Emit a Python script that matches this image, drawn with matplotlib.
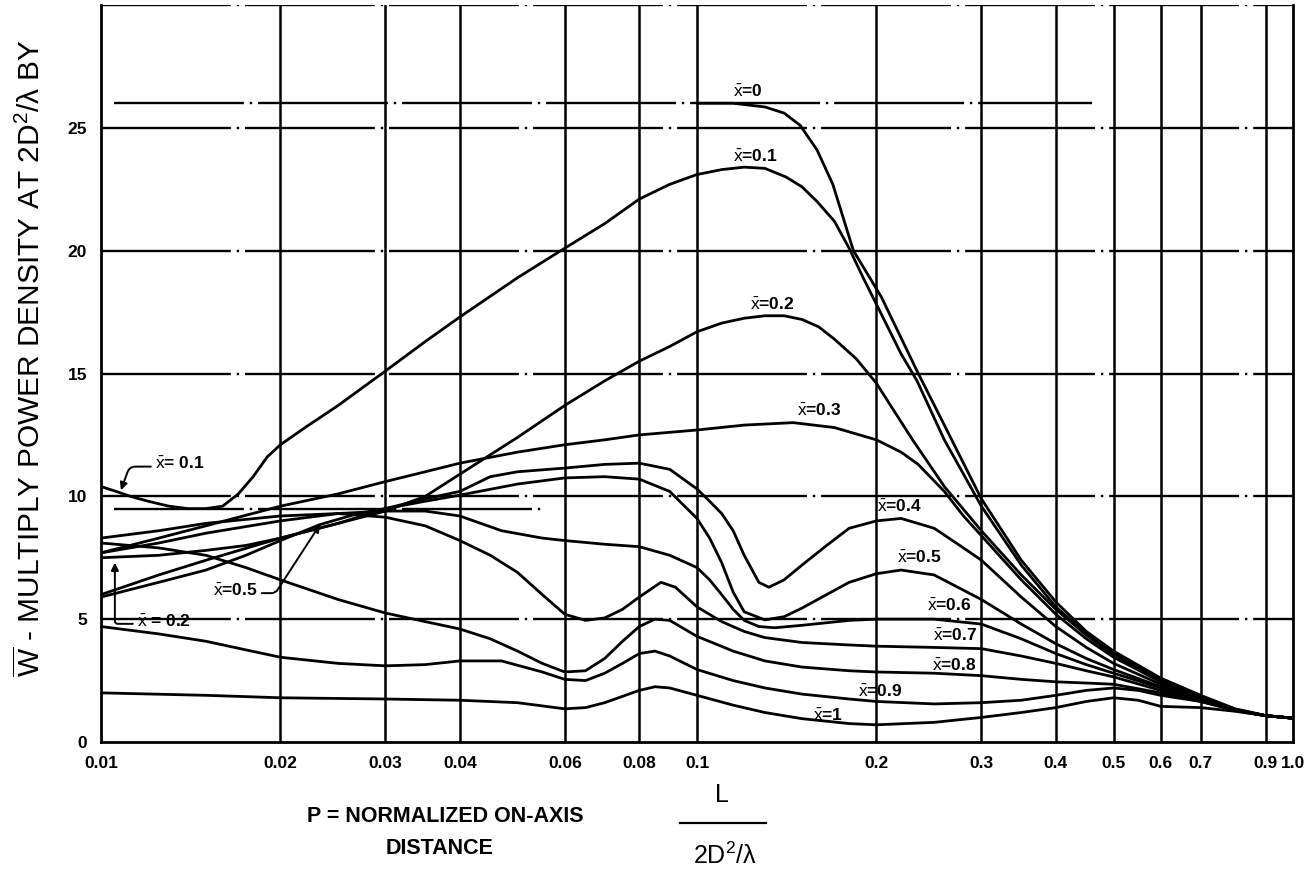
import matplotlib
matplotlib.use('Agg')
import matplotlib.pyplot as plt
from matplotlib.ticker import NullLocator

plt.rcParams['font.family'] = ['Liberation Sans', 'DejaVu Sans']
plt.rcParams['mathtext.fontset'] = 'custom'
plt.rcParams['mathtext.rm'] = 'Liberation Sans'
plt.rcParams['mathtext.it'] = 'Liberation Sans:italic'
plt.rcParams['mathtext.bf'] = 'Liberation Sans:bold'

# W (power density multiplier) against P = L / (2D^2/lambda), one curve per taper x-bar
p_x00 = [0.1, 0.115, 0.13, 0.14, 0.149, 0.159, 0.169, 0.183, 0.204, 0.234, 0.26, 0.3, 0.35, 0.4,
         0.45, 0.5, 0.6, 0.7, 0.8, 0.9, 1.0]
w_x00 = [26.0, 26.0, 25.85, 25.6, 25.1, 24.1, 22.7, 20.0, 18.1, 15.1, 12.9, 9.9, 7.4, 5.7,
         4.5, 3.7, 2.6, 1.9, 1.35, 1.08, 0.97]

p_x01 = [0.01, 0.0106, 0.0112, 0.012, 0.013, 0.014, 0.015, 0.016, 0.017, 0.018, 0.019, 0.02, 0.022,
         0.025, 0.03, 0.035, 0.04, 0.05, 0.06, 0.07, 0.08, 0.09, 0.1, 0.11, 0.12, 0.13, 0.141, 0.15,
         0.159, 0.17, 0.18, 0.19, 0.204, 0.22, 0.234, 0.26, 0.3, 0.35, 0.4, 0.45, 0.5, 0.6, 0.7, 0.8,
         0.9, 1.0]
w_x01 = [10.4, 10.2, 10.0, 9.8, 9.6, 9.5, 9.5, 9.6, 10.1, 10.8, 11.6, 12.1, 12.8,
         13.7, 15.1, 16.3, 17.3, 18.9, 20.1, 21.1, 22.1, 22.7, 23.1, 23.3, 23.4, 23.35, 23.0, 22.6,
         22.0, 21.2, 20.1, 18.9, 17.4, 15.8, 14.7, 12.3, 9.6, 7.2, 5.5, 4.4, 3.6, 2.55, 1.86, 1.33,
         1.07, 0.97]

p_x02 = [0.01, 0.0125, 0.015, 0.0175, 0.02, 0.025, 0.03, 0.035, 0.04, 0.05, 0.06, 0.07, 0.08, 0.09,
         0.1, 0.11, 0.12, 0.13, 0.14, 0.15, 0.16, 0.17, 0.185, 0.2, 0.23, 0.26, 0.3, 0.35, 0.4, 0.45,
         0.5, 0.6, 0.7, 0.8, 0.9, 1.0]
w_x02 = [7.5, 7.6, 7.8, 8.0, 8.3, 8.9, 9.4, 10.0, 10.9, 12.4, 13.7, 14.7, 15.5, 16.1,
         16.7, 17.05, 17.25, 17.35, 17.35, 17.2, 16.9, 16.4, 15.6, 14.6, 12.3, 10.4, 8.6, 6.8, 5.4, 4.35,
         3.55, 2.5, 1.83, 1.32, 1.07, 0.97]

p_x03 = [0.01, 0.0125, 0.015, 0.02, 0.025, 0.03, 0.035, 0.04, 0.05, 0.06, 0.07, 0.08, 0.1, 0.12,
         0.145, 0.17, 0.2, 0.22, 0.235, 0.26, 0.28, 0.3, 0.35, 0.4, 0.45, 0.5, 0.6, 0.7, 0.8, 0.9, 1.0]
w_x03 = [7.7, 8.3, 8.8, 9.6, 10.1, 10.6, 11.0, 11.35, 11.8, 12.1, 12.3, 12.5, 12.7, 12.9,
         13.0, 12.8, 12.3, 11.8, 11.3, 10.2, 9.2, 8.4, 6.6, 5.2, 4.2, 3.45, 2.45, 1.8, 1.31, 1.07, 0.97]

p_x04 = [0.01, 0.0125, 0.015, 0.02, 0.025, 0.03, 0.035, 0.04, 0.045, 0.05, 0.06, 0.07, 0.08, 0.09,
         0.1, 0.105, 0.11, 0.115, 0.12, 0.127, 0.132, 0.14, 0.15, 0.165, 0.18, 0.2, 0.22, 0.25, 0.28,
         0.3, 0.35, 0.4, 0.45, 0.5, 0.6, 0.7, 0.8, 0.9, 1.0]
w_x04 = [6.0, 6.8, 7.4, 8.3, 8.9, 9.5, 9.9, 10.2, 10.8, 11.0, 11.15, 11.3, 11.35, 11.1,
         10.3, 9.8, 9.3, 8.6, 7.6, 6.5, 6.3, 6.6, 7.2, 8.0, 8.7, 9.0, 9.1, 8.7, 7.9,
         7.4, 5.9, 4.7, 3.85, 3.2, 2.35, 1.78, 1.3, 1.07, 0.97]

p_x05 = [0.01, 0.0125, 0.015, 0.0175, 0.02, 0.0233, 0.027, 0.03, 0.035, 0.04, 0.05, 0.06, 0.07,
         0.08, 0.09, 0.1, 0.105, 0.11, 0.115, 0.12, 0.13, 0.14, 0.15, 0.165, 0.18, 0.2, 0.22, 0.25,
         0.3, 0.35, 0.4, 0.45, 0.5, 0.6, 0.7, 0.8, 0.9, 1.0]
w_x05 = [5.9, 6.5, 7.0, 7.6, 8.2, 8.85, 9.3, 9.5, 9.8, 10.05, 10.5, 10.75, 10.8,
         10.7, 10.2, 9.1, 8.3, 7.3, 6.1, 5.3, 4.97, 5.1, 5.45, 6.0, 6.5, 6.85, 7.0, 6.8,
         5.8, 4.8, 4.0, 3.4, 2.95, 2.25, 1.75, 1.3, 1.07, 0.97]

p_x06 = [0.01, 0.0125, 0.015, 0.02, 0.025, 0.03, 0.035, 0.04, 0.047, 0.055, 0.06, 0.07, 0.08, 0.09,
         0.1, 0.105, 0.11, 0.115, 0.12, 0.127, 0.135, 0.15, 0.18, 0.2, 0.25, 0.3, 0.35, 0.4, 0.45,
         0.5, 0.6, 0.7, 0.8, 0.9, 1.0]
w_x06 = [7.7, 8.1, 8.5, 9.0, 9.3, 9.4, 9.4, 9.2, 8.6, 8.3, 8.2, 8.05, 7.95, 7.6,
         7.1, 6.6, 6.0, 5.4, 4.95, 4.7, 4.65, 4.75, 4.95, 5.0, 5.0, 4.8, 4.2, 3.6, 3.15,
         2.8, 2.2, 1.72, 1.3, 1.07, 0.97]

p_x07 = [0.01, 0.0125, 0.015, 0.02, 0.025, 0.03, 0.035, 0.04, 0.045, 0.05, 0.055, 0.06, 0.065,
         0.07, 0.075, 0.08, 0.087, 0.092, 0.1, 0.11, 0.12, 0.13, 0.15, 0.18, 0.2, 0.25, 0.3, 0.35,
         0.4, 0.45, 0.5, 0.6, 0.7, 0.8, 0.9, 1.0]
w_x07 = [8.3, 8.6, 8.9, 9.2, 9.3, 9.15, 8.8, 8.2, 7.6, 6.9, 6.0, 5.2, 4.95,
         5.05, 5.4, 5.9, 6.5, 6.3, 5.5, 4.9, 4.5, 4.25, 4.05, 3.95, 3.9, 3.85, 3.8, 3.5,
         3.2, 2.9, 2.65, 2.1, 1.68, 1.3, 1.07, 0.97]

p_x08 = [0.01, 0.0125, 0.015, 0.0175, 0.02, 0.025, 0.03, 0.035, 0.04, 0.045, 0.05, 0.055, 0.06,
         0.065, 0.07, 0.075, 0.08, 0.085, 0.09, 0.1, 0.115, 0.13, 0.15, 0.18, 0.2, 0.25, 0.3, 0.35,
         0.4, 0.45, 0.5, 0.6, 0.7, 0.8, 0.9, 1.0]
w_x08 = [8.1, 7.9, 7.6, 7.1, 6.6, 5.8, 5.25, 4.9, 4.6, 4.2, 3.7, 3.2, 2.85,
         2.9, 3.4, 4.1, 4.7, 5.0, 4.95, 4.3, 3.7, 3.3, 3.05, 2.9, 2.85, 2.8, 2.7, 2.55,
         2.45, 2.4, 2.35, 2.0, 1.65, 1.3, 1.07, 0.97]

p_x09 = [0.01, 0.0125, 0.015, 0.0175, 0.02, 0.025, 0.03, 0.035, 0.04, 0.047, 0.055, 0.06, 0.065,
         0.07, 0.075, 0.08, 0.085, 0.09, 0.1, 0.115, 0.13, 0.15, 0.18, 0.2, 0.25, 0.3, 0.35, 0.4,
         0.45, 0.5, 0.55, 0.6, 0.7, 0.8, 0.9, 1.0]
w_x09 = [4.7, 4.4, 4.1, 3.75, 3.45, 3.2, 3.1, 3.15, 3.3, 3.3, 2.85, 2.55, 2.5,
         2.8, 3.2, 3.6, 3.7, 3.5, 2.95, 2.5, 2.2, 1.95, 1.75, 1.65, 1.55, 1.6, 1.7, 1.9,
         2.1, 2.2, 2.1, 1.9, 1.65, 1.28, 1.07, 0.97]

p_x10 = [0.01, 0.015, 0.02, 0.03, 0.04, 0.05, 0.06, 0.065, 0.07, 0.08, 0.085, 0.09, 0.1, 0.115,
         0.13, 0.15, 0.18, 0.2, 0.25, 0.3, 0.35, 0.4, 0.45, 0.5, 0.55, 0.6, 0.7, 0.8, 0.9, 1.0]
w_x10 = [2.0, 1.9, 1.8, 1.75, 1.7, 1.6, 1.35, 1.4, 1.6, 2.1, 2.25, 2.2, 1.9, 1.5,
         1.2, 0.95, 0.75, 0.7, 0.8, 1.0, 1.2, 1.4, 1.65, 1.8, 1.7, 1.45, 1.4, 1.25, 1.07, 0.97]

curves = [(p_x00, w_x00), (p_x01, w_x01), (p_x02, w_x02), (p_x03, w_x03), (p_x04, w_x04),
          (p_x05, w_x05), (p_x06, w_x06), (p_x07, w_x07), (p_x08, w_x08), (p_x09, w_x09),
          (p_x10, w_x10)]

# curve labels: text, left edge P, baseline W
label_text = ['0', '0.1', '0.2', '0.3', '0.4', '0.5', '0.6', '0.7', '0.8', '0.9', '1']
label_p = [0.1149, 0.1149, 0.1227, 0.1472, 0.2004, 0.2166, 0.2432, 0.2488, 0.248, 0.1863, 0.1565]
label_w = [26.25, 23.6, 17.6, 13.25, 9.35, 7.3, 5.33, 4.12, 2.87, 1.83, 0.87]

x_ticks = [0.01, 0.02, 0.03, 0.04, 0.06, 0.08, 0.1, 0.2, 0.3, 0.4, 0.5, 0.6, 0.7, 0.9, 1.0]
x_tick_labels = ['0.01', '0.02', '0.03', '0.04', '0.06', '0.08', '0.1', '0.2', '0.3', '0.4',
                 '0.5', '0.6', '0.7', '0.9', '1.0']
y_ticks = [0, 5, 10, 15, 20, 25]
h_grid = [30, 25, 20, 15, 10, 5]

W, H = 1307, 873
fig = plt.figure(figsize=(W / 100, H / 100), dpi=100)
ax = fig.add_axes([101 / W, (H - 742) / H, (1293 - 101) / W, (742 - 5) / H])
ax.set_xscale('log')
ax.set_xlim(0.01, 1.0)
ax.set_ylim(0, 30)

dash = (0, (55, 2.5, 1, 2.5))
for v in x_ticks[1:-1]:
    ax.axvline(v, color='black', lw=1.8, zorder=1)
for h in h_grid:
    ax.axhline(h, color='black', lw=1.7, ls=dash, zorder=1)
ax.plot([0.0105, 0.46], [26, 26], color='black', lw=1.7, ls=dash, zorder=1)
ax.plot([0.0105, 0.055], [9.5, 9.5], color='black', lw=1.7, ls=dash, zorder=1)

for p, w in curves:
    ax.plot(p, w, color='black', lw=2.0, solid_joinstyle='round', solid_capstyle='round', zorder=3)

for t, lp, lw_ in zip(label_text, label_p, label_w):
    ax.text(lp, lw_, r'$\bar{\mathrm{x}}$=' + t, fontsize=12.5, fontweight='bold',
            ha='left', va='baseline', zorder=4)

arrow = dict(arrowstyle='-|>', color='black', lw=1.4, shrinkA=1, shrinkB=0, mutation_scale=11)
ax.annotate(r'$\bar{\mathrm{x}}$= 0.1', xy=(0.0108, 10.25), xytext=(0.01232, 11.1),
            fontsize=12.5, fontweight='bold', ha='left', va='baseline',
            arrowprops=dict(arrow, relpos=(0, 0.35), connectionstyle='angle,angleA=180,angleB=70,rad=6'))
ax.annotate(r'$\bar{\mathrm{x}}$=0.5', xy=(0.0233, 8.85), xytext=(0.01542, 5.95),
            fontsize=12.5, fontweight='bold', ha='left', va='baseline',
            arrowprops=dict(arrow, relpos=(1, 0.35), connectionstyle='angle,angleA=0,angleB=57,rad=4'))
ax.annotate(r'$\bar{\mathrm{x}}$ = 0.2', xy=(0.01055, 7.3), xytext=(0.01149, 4.7),
            fontsize=12.5, fontweight='bold', ha='left', va='baseline',
            arrowprops=dict(arrow, relpos=(0, 0.35), connectionstyle='angle,angleA=180,angleB=90,rad=3'))

ax.set_xticks(x_ticks)
ax.set_xticklabels(x_tick_labels)
ax.xaxis.set_minor_locator(NullLocator())
ax.set_yticks(y_ticks)
ax.tick_params(length=0, labelsize=12.5)
ax.tick_params(axis='x', pad=10)
ax.tick_params(axis='y', pad=10)
for lab in ax.get_xticklabels() + ax.get_yticklabels():
    lab.set_fontweight('bold')

ax.spines['top'].set_visible(False)
for s in ['left', 'bottom', 'right']:
    ax.spines[s].set_linewidth(2.0)

fig.text(30 / W, 1 - 358 / H, r'$\overline{\mathrm{W}}$ - MULTIPLY POWER DENSITY AT 2D$^{\mathrm{2}}$/λ BY',
         rotation=90, ha='center', va='center', fontsize=21.5)

fig.text(445 / W, 1 - 817 / H, 'P = NORMALIZED ON-AXIS', ha='center', va='center',
         fontsize=15.5, fontweight='bold')
fig.text(440 / W, 1 - 848 / H, 'DISTANCE', ha='center', va='center', fontsize=15.5, fontweight='bold')
fig.text(722 / W, 1 - 795 / H, 'L', ha='center', va='center', fontsize=18)
fig.add_artist(plt.Line2D([680 / W, 766 / W], [1 - 823 / H, 1 - 823 / H], color='black', lw=1.6))
fig.text(725 / W, 1 - 856 / H, r'2D$^{\mathrm{2}}$/λ', ha='center', va='center', fontsize=18)

fig.savefig('out.png', dpi=100)
